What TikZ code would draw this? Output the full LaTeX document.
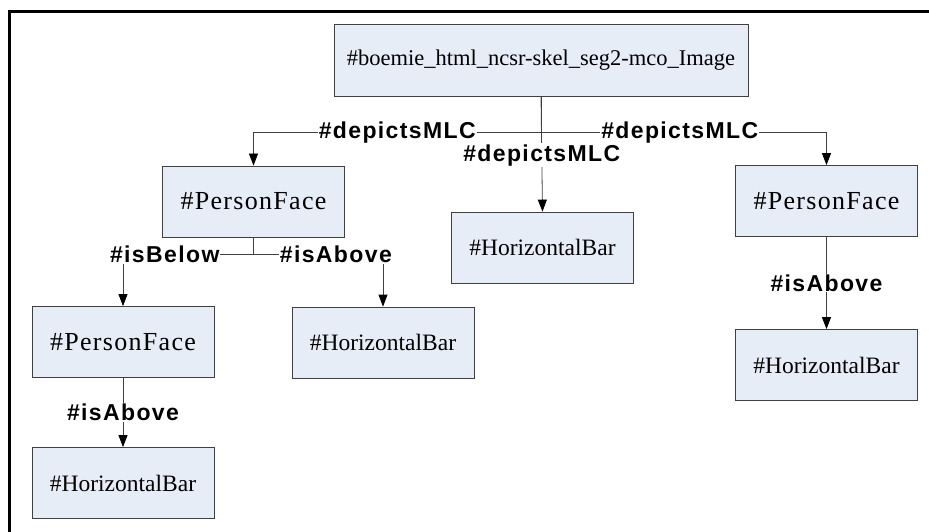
\documentclass[tikz,border=0pt]{standalone}
\usepackage{fontspec}
\setmainfont{Liberation Serif}
\newfontfamily\labfont[LetterSpace=6]{Liberation Sans}
\newfontfamily\facefont[LetterSpace=5]{Liberation Serif}
\usetikzlibrary{arrows.meta}
\definecolor{boxfill}{RGB}{231,237,247}
\definecolor{linegray}{RGB}{64,64,64}
\tikzset{
  concept/.style={draw=linegray,fill=boxfill,line width=0.8pt,minimum width=182pt,
    minimum height=71pt,inner sep=0pt,font=\fontsize{23.5}{24}\selectfont},
  facebox/.style={concept,font=\facefont\fontsize{26}{26}\selectfont},
  rel/.style={fill=white,inner sep=1pt,font=\labfont\bfseries\fontsize{23}{23}\selectfont},
  link/.style={draw=linegray,line width=0.8pt},
  arr/.style={link,-{Triangle[length=12pt,width=9pt,black]}}
}
\begin{document}
\begin{tikzpicture}[x=1pt,y=-1pt]
  \useasboundingbox (0,0) rectangle (929,532);
  \draw[line width=3pt] (9,532) -- (9,11.5) -- (929,11.5);
  % concepts
  \node[concept,minimum width=414pt,minimum height=72pt,font=\fontsize{22.5}{24}\selectfont]
    (image) at (541,60) {\#boemie\_html\_ncsr-skel\_seg2-mco\_Image};
  \node[facebox] (faceL)  at (253.5,201.5) {\#PersonFace};
  \node[concept] (barM)   at (542.5,247.5) {\#HorizontalBar};
  \node[facebox] (faceR)  at (826.5,201)   {\#PersonFace};
  \node[facebox] (faceLL) at (123,342)     {\#PersonFace};
  \node[concept] (barLR)  at (383,342.5)   {\#HorizontalBar};
  \node[concept] (barLL)  at (123,483)     {\#HorizontalBar};
  \node[concept] (barR)   at (826.5,365)   {\#HorizontalBar};
  \coordinate (split)  at ([yshift=-36pt]image.south);
  \coordinate (splitL) at ([yshift=-17pt]faceL.south);
  % relations
  \draw[link] (image.south) -- (split);
  \draw[arr] (split) -| node[rel,pos=0.25]{\#depictsMLC} (faceL.north);
  \draw[arr] (split) -| node[rel,pos=0.243]{\#depictsMLC} (faceR.north);
  \draw[arr] (image.south) -- node[rel,pos=0.51]{\#depictsMLC} (barM.north);
  \draw[link] (faceL.south) -- (splitL);
  \draw[arr] (splitL) -| node[rel,pos=0.34]{\#isBelow} (faceLL.north);
  \draw[arr] (splitL) -| node[rel,pos=0.318]{\#isAbove} (barLR.north);
  \draw[arr] (faceLL.south) -- node[rel]{\#isAbove} (barLL.north);
  \draw[arr] (faceR.south) -- node[rel]{\#isAbove} (barR.north);
\end{tikzpicture}
\end{document}
